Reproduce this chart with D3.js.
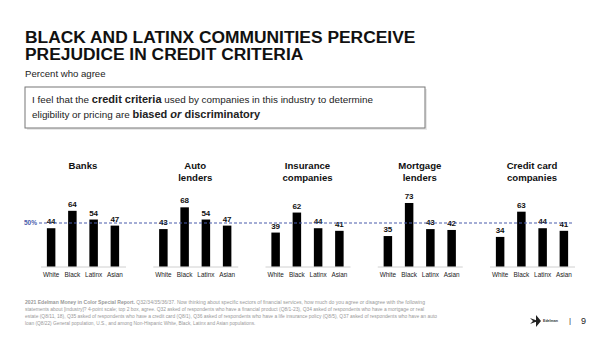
<!DOCTYPE html>
<html><head><meta charset="utf-8">
<script src="https://cdn.jsdelivr.net/npm/d3@7"></script>
<style>
body{margin:0;background:#fff;}
svg{display:block;font-family:"Liberation Sans",Arial,Helvetica,sans-serif;}
</style></head>
<body>
<svg id="c" width="600" height="337"></svg>
<script>
const panels = ["Banks|", "Auto|lenders", "Insurance|companies", "Mortgage|lenders", "Credit card|companies"];
const groups = ["White", "Black", "Latinx", "Asian"];
const values = [
  [44, 64, 54, 47],
  [43, 68, 54, 47],
  [39, 62, 44, 41],
  [35, 73, 43, 42],
  [34, 63, 44, 41]
];
const refValue = 50;
const refLabel = "50%";

const svg = d3.select("#c");

// Title
const title = svg.append("text").attr("x", 25).attr("font-weight", "bold").attr("font-size", 17.4).attr("fill", "#111");
title.append("tspan").attr("x", 25).attr("y", 42.5).text("BLACK AND LATINX COMMUNITIES PERCEIVE");
title.append("tspan").attr("x", 25).attr("y", 60).text("PREJUDICE IN CREDIT CRITERIA");
svg.append("text").attr("x", 25).attr("y", 77).attr("font-size", 9.6).attr("fill", "#222").text("Percent who agree");

// Question box
svg.append("rect").attr("x", 27).attr("y", 89).attr("width", 400).attr("height", 41).attr("fill", "#e8e8e8");
svg.append("rect").attr("x", 25).attr("y", 87).attr("width", 400).attr("height", 41).attr("fill", "#fff").attr("stroke", "#777").attr("stroke-width", 1);
const q1 = svg.append("text").attr("x", 32).attr("y", 103).attr("font-size", 9.9).attr("fill", "#222");
q1.append("tspan").text("I feel that the ");
q1.append("tspan").attr("font-weight", "bold").attr("font-size", 11).text("credit criteria");
q1.append("tspan").text(" used by companies in this industry to determine");
const q2 = svg.append("text").attr("x", 32).attr("y", 118).attr("font-size", 9.9).attr("fill", "#222");
q2.append("tspan").text("eligibility or pricing are ");
q2.append("tspan").attr("font-weight", "bold").attr("font-size", 11).text("biased ");
q2.append("tspan").attr("font-weight", "bold").attr("font-style", "italic").attr("font-size", 11).text("or");
q2.append("tspan").attr("font-weight", "bold").attr("font-size", 11).text(" discriminatory");

// Scales
const panelX = d3.scalePoint().domain(panels).range([83, 532]);
const y = d3.scaleLinear().domain([0, 100]).range([266.5, 179.5]);
const xIn = d3.scaleBand().domain(groups).range([-42.5, 42.5]).paddingInner(0.6).paddingOuter(0.3);

panels.forEach((p, i) => {
  const g = svg.append("g").attr("transform", `translate(${panelX(p)},0)`);
  const lines = p.split("|");
  const t = g.append("text").attr("text-anchor", "middle").attr("font-weight", "bold").attr("font-size", 9.6).attr("fill", "#111");
  t.append("tspan").attr("x", 0).attr("y", 169).text(lines[0]);
  if (lines[1]) t.append("tspan").attr("x", 0).attr("y", 181).text(lines[1]);
  g.append("line").attr("x1", -42).attr("x2", 43).attr("y1", y(0) + 0.5).attr("y2", y(0) + 0.5).attr("stroke", "#d0d0d0").attr("stroke-width", 1);
  g.selectAll("rect.bar").data(values[i]).join("rect").attr("class", "bar")
    .attr("x", (d, j) => xIn(groups[j])).attr("width", xIn.bandwidth())
    .attr("y", d => y(d)).attr("height", d => y(0) - y(d)).attr("fill", "#000");
  g.selectAll("text.val").data(values[i]).join("text").attr("class", "val")
    .attr("x", (d, j) => xIn(groups[j]) + xIn.bandwidth() / 2).attr("y", d => y(d) - 4)
    .attr("text-anchor", "middle").attr("font-weight", "bold").attr("font-size", 8).attr("fill", "#111").text(d => d);
  g.selectAll("text.cat").data(groups).join("text").attr("class", "cat")
    .attr("x", d => xIn(d) + xIn.bandwidth() / 2).attr("y", 277)
    .attr("text-anchor", "middle").attr("font-size", 6.4).attr("fill", "#222").text(d => d);
});

// 50% reference line
svg.append("line").attr("x1", 39).attr("x2", 572).attr("y1", y(refValue)).attr("y2", y(refValue))
  .attr("stroke", "#4a5cab").attr("stroke-width", 1.1).attr("stroke-dasharray", "3,2");
svg.append("text").attr("x", 24).attr("y", y(refValue) + 2).attr("font-size", 6.5).attr("font-weight", "bold").attr("fill", "#4a5cab").text(refLabel);

// Footnote
const fn = [
  ["2021 Edelman Money in Color Special Report.", " Q32/34/35/36/37. Now thinking about specific sectors of financial services, how much do you agree or disagree with the following", 400],
  ["", "statements about [industry]? 4-point scale; top 2 box, agree. Q32 asked of respondents who have a financial product (Q8/1-23), Q34 asked of respondents who have a mortgage or real", 399],
  ["", "estate (Q8/11, 18), Q35 asked of respondents who have a credit card (Q8/1), Q36 asked of respondents who have a life insurance policy (Q8/5), Q37 asked of respondents who have an auto", 412],
  ["", "loan (Q8/22) General population, U.S., and among Non-Hispanic White, Black, Latinx and Asian populations.", null]
];
fn.forEach((l, i) => {
  const t = svg.append("text").attr("x", 25).attr("y", 303.5 + i * 7.2).attr("font-size", 4.8).attr("fill", "#999");
  if (l[2]) t.attr("textLength", l[2]).attr("lengthAdjust", "spacingAndGlyphs");
  if (l[0]) t.append("tspan").attr("font-weight", "bold").text(l[0]);
  t.append("tspan").text(l[1]);
});

// Logo & page number
svg.append("path").attr("d", "M530,318 L538,321 L530,324 L533,321 Z M536,315 L541,321 L536,327 Z").attr("fill", "#222");
svg.append("text").attr("x", 543).attr("y", 322).attr("font-size", 3.6).attr("font-weight", "bold").attr("fill", "#333").text("Edelman");
svg.append("text").attr("x", 569).attr("y", 323).attr("font-size", 8).attr("fill", "#333").text("|");
svg.append("text").attr("x", 581).attr("y", 323.5).attr("font-size", 9).attr("fill", "#222").text("9");
</script>
</body></html>
